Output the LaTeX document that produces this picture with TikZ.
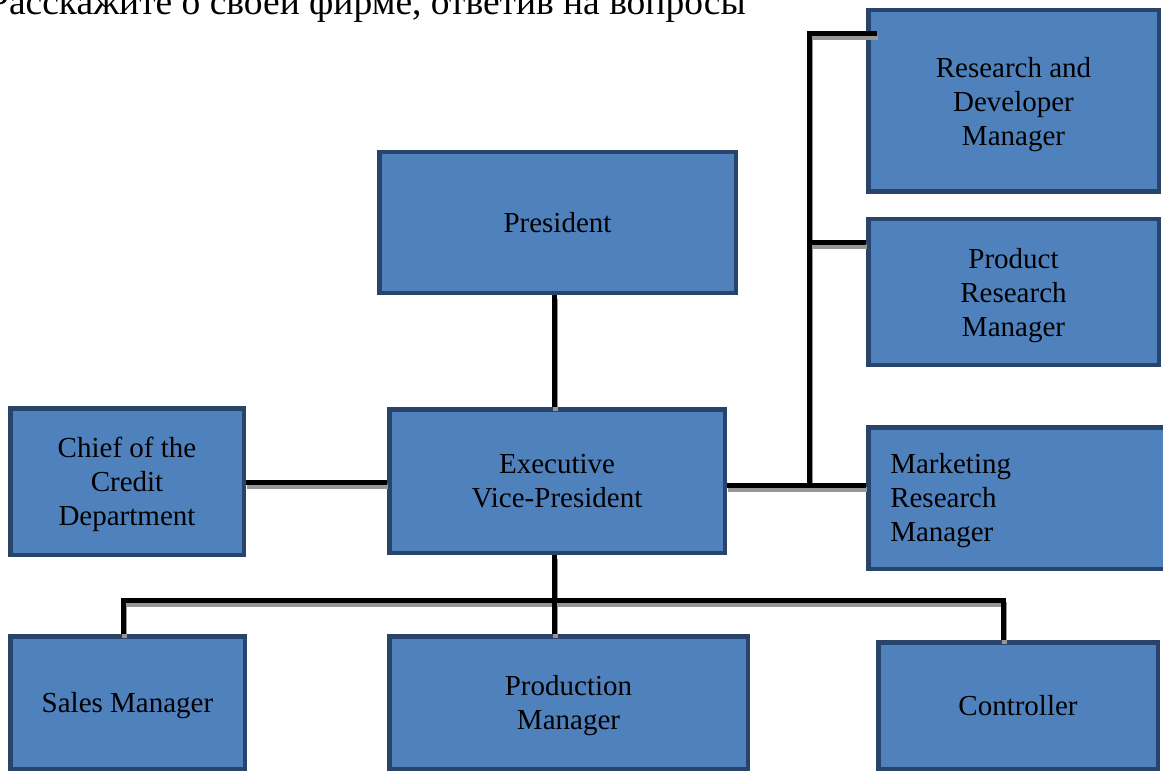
\documentclass[tikz,border=0pt]{standalone}
\usepackage{fontspec}
\setmainfont{Liberation Serif}
\definecolor{boxfill}{RGB}{79,129,189}
\definecolor{boxdraw}{RGB}{40,68,106}
\definecolor{shadegray}{RGB}{150,150,150}
\begin{document}
\begin{tikzpicture}[x=1pt,y=-1pt,
  orgbox/.style={draw=boxdraw,fill=boxfill,line width=4.5pt,inner sep=0pt,text depth=0pt,
    font=\fontsize{29}{34}\selectfont,align=center},
  link/.style={line width=5pt,draw=black},
  linkshade/.style={line width=5pt,draw=shadegray,transform canvas={xshift=1pt,yshift=-4pt}}]
\useasboundingbox (0,0) rectangle (1163,773);
\clip (0,0) rectangle (1163,773);
% header text
\node[anchor=base west,inner sep=0pt,font=\fontsize{37.5}{40}\selectfont] (head) at (-12,15)
  {Расскажите о своей фирме, ответив на вопросы};
% boxes
\node[orgbox,minimum width=356.5,minimum height=140.5] (pres) at (557.5,222.5) {President};
\node[orgbox,minimum width=335.5,minimum height=143.5] (evp) at (557,481) {Executive\\Vice-President};
\node[orgbox,minimum width=233.5,minimum height=146.5] (credit) at (127,481.5) {Chief of the\\Credit\\Department};
\node[orgbox,minimum width=290.5,minimum height=181.5] (rd) at (1013.5,101) {Research and\\Developer\\Manager};
\node[orgbox,minimum width=290.5,minimum height=145.5] (pr) at (1013.5,292) {Product\\Research\\Manager};
\node[orgbox,minimum width=299.5,minimum height=141.5,text width=255.5,align=left,inner xsep=22,
  text height=20pt,text depth=70pt] (mkt) at (1018,498) {Marketing\\Research\\Manager};
\node[orgbox,minimum width=234.5,minimum height=132.5] (sales) at (127.5,702.5) {Sales Manager};
\node[orgbox,minimum width=358.5,minimum height=132.5] (prod) at (568.5,702.5) {Production\\Manager};
\node[orgbox,minimum width=279.5,minimum height=126.5] (ctrl) at (1018,705.5) {Controller};
% junction coordinates
\coordinate (cx) at (554,0);
\coordinate (jr) at (809,485);
\coordinate (jt) at (809,34);
\coordinate (jrd) at (877,34);
\coordinate (jpr) at (809,242);
\coordinate (jc) at (0,482);
\coordinate (busl) at (123,600);
\coordinate (busr) at (1003,600);
% connector shadows
\draw[linkshade] (pres.south -| cx) -- (evp.north -| cx);
\draw[linkshade] (credit.east |- jc) -- (evp.west |- jc);
\draw[linkshade] (evp.east |- jr) -- (mkt.west |- jr);
\draw[linkshade] (jr) -- (jt) -- (jrd);
\draw[linkshade] (jpr) -- (pr.west |- jpr);
\draw[linkshade] (evp.south -| cx) -- (prod.north -| cx);
\draw[linkshade] (sales.north -| busl) -- (busl) -- (busr) -- (ctrl.north -| busr);
% connectors
\draw[link] (pres.south -| cx) -- (evp.north -| cx);
\draw[link] (credit.east |- jc) -- (evp.west |- jc);
\draw[link] (evp.east |- jr) -- (mkt.west |- jr);
\draw[link] (jr) -- (jt) -- (jrd);
\draw[link] (jpr) -- (pr.west |- jpr);
\draw[link] (evp.south -| cx) -- (prod.north -| cx);
\draw[link] (sales.north -| busl) -- (busl) -- (busr) -- (ctrl.north -| busr);
\end{tikzpicture}
\end{document}
